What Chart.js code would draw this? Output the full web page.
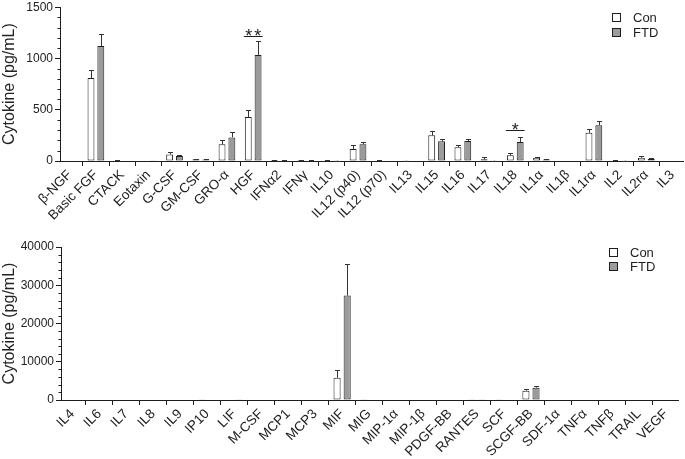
<!DOCTYPE html>
<html><head><meta charset="utf-8">
<script src="https://cdn.jsdelivr.net/npm/chart.js@4.4.0/dist/chart.umd.min.js"></script>
<style>
html,body{margin:0;padding:0;background:#fff;overflow:hidden;}
#w{position:relative;width:685px;height:459px;}
canvas{position:absolute;left:0;}
#c1{top:-2px;}
#c2{top:230px;}
</style></head><body>
<div id="w"><canvas id="c1" width="685" height="232"></canvas><canvas id="c2" width="685" height="229"></canvas></div>
<script>
const seriesNames = ['Con', 'FTD'];
const yTitle = 'Cytokine (pg/mL)';

const topCategories = ['β-NGF','Basic FGF','CTACK','Eotaxin','G-CSF','GM-CSF','GRO-α','HGF','IFNα2','IFNγ','IL10','IL12 (p40)','IL12 (p70)','IL13','IL15','IL16','IL17','IL18','IL1α','IL1β','IL1rα','IL2','IL2rα','IL3'];
const topCon    = [0, 810, 5, 0, 64, 18, 163, 430, 10, 10, 8, 118, 5, 2, 250, 135, 16, 55, 32, 0, 276, 5, 32, 0];
const topConErr = [0, 81, 2, 0, 19, 5, 45, 67, 3, 3, 3, 36, 2, 1, 38, 22, 25, 22, 6, 0, 32, 2, 13, 0];
const topFtd    = [0, 1122, 0, 2, 48, 15, 230, 1035, 8, 5, 3, 163, 0, 0, 192, 195, 3, 186, 14, 0, 349, 3, 22, 0];
const topFtdErr = [0, 115, 0, 0, 7, 5, 52, 135, 2, 2, 1, 26, 0, 0, 26, 23, 1, 45, 4, 0, 39, 1, 5, 0];
const topYTicks = [0, 500, 1000, 1500];
const topSigCategories = ['HGF', 'IL18'];
const topSigLabels = ['**', '*'];
const topSigLevels = [1220, 300];

const botCategories = ['IL4','IL6','IL7','IL8','IL9','IP10','LIF','M-CSF','MCP1','MCP3','MIF','MIG','MIP-1α','MIP-1β','PDGF-BB','RANTES','SCF','SCGF-BB','SDF-1α','TNFα','TNFβ','TRAIL','VEGF'];
const botCon    = [0, 0, 0, 0, 0, 60, 0, 0, 0, 0, 5800, 80, 0, 0, 0, 60, 60, 2450, 0, 0, 0, 0, 150];
const botConErr = [0, 0, 0, 0, 0, 0, 0, 0, 0, 0, 2000, 0, 0, 0, 0, 0, 0, 410, 0, 0, 0, 0, 0];
const botFtd    = [0, 0, 0, 0, 0, 0, 80, 0, 0, 0, 27300, 0, 0, 0, 0, 60, 0, 3230, 0, 0, 0, 0, 150];
const botFtdErr = [0, 0, 0, 0, 0, 0, 0, 0, 0, 0, 8200, 0, 0, 0, 0, 0, 0, 520, 0, 0, 0, 0, 0];
const botYTicks = [0, 10000, 20000, 30000, 40000];

Chart.defaults.font.family = '"Liberation Sans", Arial, Helvetica, sans-serif';
Chart.defaults.color = '#222';

const INK = '#1e1e1e';
const FILLS = ['#ffffff', '#9b9b9b'];

const extras = {
  id: 'extras',
  afterDraw(chart, args, o) {
    const ctx = chart.ctx, ys = chart.scales.y, area = chart.chartArea;
    ctx.save();
    // minor ticks
    ctx.strokeStyle = INK; ctx.lineWidth = 1;
    const xa = Math.round(area.left) + 0.5;
    for (let v = ys.min; v <= ys.max + 1e-6; v += o.minorStep) {
      if (Math.abs(v % o.majorStep) < 1e-6) continue;
      const py = Math.round(ys.getPixelForValue(v)) + 0.5;
      ctx.beginPath(); ctx.moveTo(xa - 3, py); ctx.lineTo(xa, py); ctx.stroke();
    }
    // error bars
    chart.data.datasets.forEach((ds, di) => {
      const meta = chart.getDatasetMeta(di);
      meta.data.forEach((bar, i) => {
        const e = ds.errors[i];
        if (!e) return;
        const v = ds.data[i].y;
        const yb = ys.getPixelForValue(v), yt = Math.round(ys.getPixelForValue(v + e)) + 0.5;
        const x = Math.round(bar.x) + 0.5;
        ctx.strokeStyle = o.errColor; ctx.lineWidth = 1;
        ctx.beginPath(); ctx.moveTo(x, yb); ctx.lineTo(x, yt);
        ctx.moveTo(x - 2.5, yt); ctx.lineTo(x + 2.5, yt); ctx.stroke();
      });
    });
    // significance
    const cats = o.categories;
    (o.sigCategories || []).forEach((c, k) => {
      const idx = cats.indexOf(c);
      const b0 = chart.getDatasetMeta(0).data[idx], b1 = chart.getDatasetMeta(1).data[idx];
      const x0 = b0.x - b0.width / 2 - 1, x1 = b1.x + b1.width / 2 + 1;
      const py = Math.round(ys.getPixelForValue(o.sigLevels[k])) + 0.5;
      ctx.strokeStyle = INK; ctx.lineWidth = 1;
      ctx.beginPath(); ctx.moveTo(x0, py); ctx.lineTo(x1, py); ctx.stroke();
      ctx.fillStyle = INK; ctx.font = '18px "Liberation Sans", Arial, sans-serif';
      ctx.textAlign = 'center'; ctx.textBaseline = 'alphabetic';
      const label = o.sigLabels[k], n = label.length, cx = (x0 + x1) / 2;
      for (let j = 0; j < n; j++) {
        ctx.fillText(label[j], cx + (j - (n - 1) / 2) * 9, py + 5);
      }
    });
    // legend
    ctx.font = '13px "Liberation Sans", Arial, sans-serif';
    ctx.textAlign = 'left'; ctx.textBaseline = 'middle';
    chart.data.datasets.forEach((ds, di) => {
      const cy = o.legendY + di * o.legendGap;
      ctx.fillStyle = ds.backgroundColor; ctx.strokeStyle = ds.borderColor; ctx.lineWidth = 1;
      ctx.fillRect(o.legendX + 0.5, Math.round(cy - 4) + 0.5, 8, 8);
      ctx.strokeRect(o.legendX + 0.5, Math.round(cy - 4) + 0.5, 8, 8);
      ctx.fillStyle = INK;
      ctx.fillText(ds.label, o.legendX + 21, cy + 1);
    });
    ctx.restore();
  }
};

function makeChart(el, cats, con, conErr, ftd, ftdErr, yMax, yTicks, cfg) {
  return new Chart(document.getElementById(el), {
    type: 'bar',
    data: {
      datasets: [
        { label: seriesNames[0], data: con.map((v, i) => ({x: i, y: v})), errors: conErr,
          backgroundColor: FILLS[0], borderColor: INK, borderWidth: 1, borderSkipped: false,
          categoryPercentage: 0.75, barPercentage: 0.7 },
        { label: seriesNames[1], data: ftd.map((v, i) => ({x: i, y: v})), errors: ftdErr,
          backgroundColor: FILLS[1], borderColor: INK, borderWidth: 1, borderSkipped: false,
          categoryPercentage: 0.75, barPercentage: 0.7 }
      ]
    },
    options: {
      responsive: false, animation: false, devicePixelRatio: 1,
      layout: { padding: cfg.padding },
      plugins: {
        legend: { display: false }, tooltip: { enabled: false },
        extras: Object.assign({ categories: cats, errColor: '#333' }, cfg.extras)
      },
      scales: {
        x: {
          type: 'linear', min: cfg.xMin, max: cfg.xMax, offset: false,
          afterBuildTicks: s => { s.ticks = cats.map((_, i) => ({ value: i })); },
          ticks: { autoSkip: false, minRotation: 45, maxRotation: 45, padding: 1,
                   font: { size: 13.5 }, color: '#222', callback: v => cats[v] },
          grid: { display: true, drawOnChartArea: false, drawTicks: true, tickLength: 5, color: INK },
          border: { display: true, color: INK, width: 1 },
          afterFit: s => { s.height = cfg.xHeight; }
        },
        y: {
          min: 0, max: yMax,
          afterBuildTicks: s => { s.ticks = yTicks.map(v => ({ value: v })); },
          ticks: { font: { size: 12 }, color: '#222', padding: 2, callback: v => String(v) },
          grid: { display: true, drawOnChartArea: false, drawTicks: true, tickLength: 5, color: INK },
          border: { display: true, color: INK, width: 1 },
          title: { display: true, text: yTitle, font: { size: 16 }, color: '#222', padding: { top: 0, bottom: 2 } },
          afterFit: s => { s.width = cfg.yWidth; }
        }
      }
    },
    plugins: [extras]
  });
}

makeChart('c1', topCategories, topCon, topConErr, topFtd, topFtdErr, 1500, topYTicks, {
  padding: { top: 0, right: 1, left: 0, bottom: 0 },
  xMin: -0.37, xMax: 23.43, xHeight: 69, yWidth: 60,
  extras: { minorStep: 100, majorStep: 500, sigCategories: topSigCategories, sigLabels: topSigLabels,
            sigLevels: topSigLevels, legendX: 612, legendY: 19, legendGap: 15 }
});
makeChart('c2', botCategories, botCon, botConErr, botFtd, botFtdErr, 40000, botYTicks, {
  padding: { top: 17, right: 7, left: 0, bottom: 0 },
  xMin: -0.42, xMax: 22.45, xHeight: 59, yWidth: 61,
  extras: { minorStep: 2000, majorStep: 10000, legendX: 609, legendY: 22, legendGap: 14 }
});
</script>
</body></html>
